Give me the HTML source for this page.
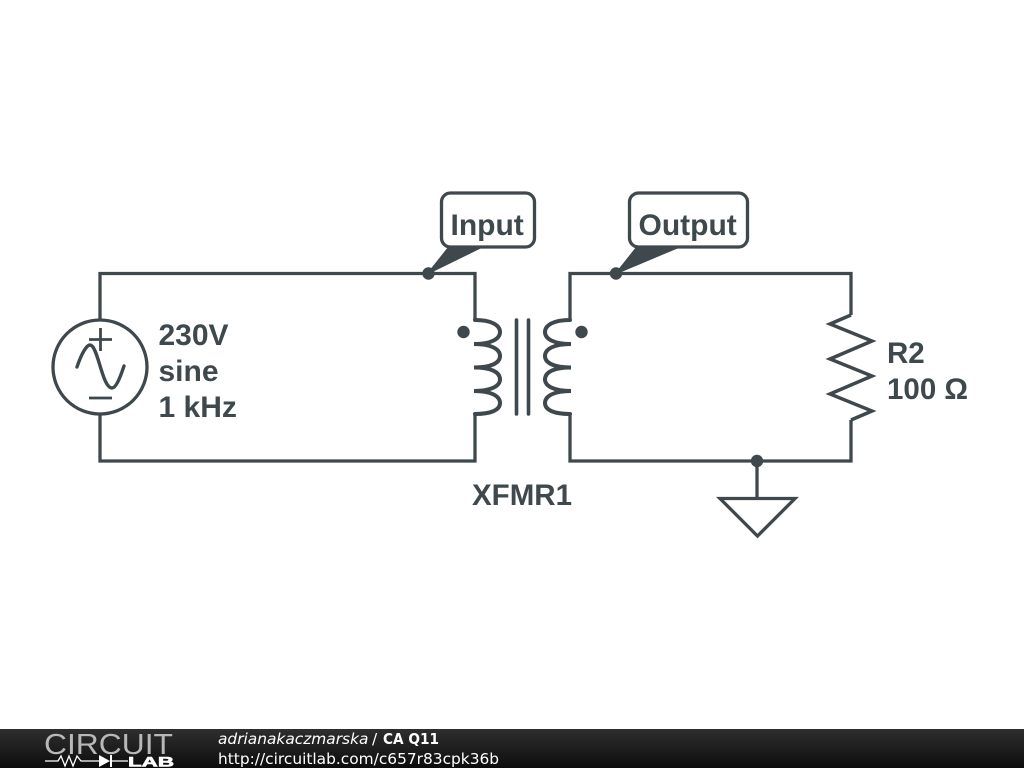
<!DOCTYPE html>
<html><head><meta charset="utf-8">
<style>
html,body{margin:0;padding:0;background:#fff;width:1024px;height:768px;overflow:hidden}
svg{display:block}
.t{font-family:"Liberation Sans",sans-serif;font-weight:bold;font-size:29.500px;fill:#3f484d}
.u{font-size:30px}
.f{font-family:"DejaVu Sans",sans-serif;font-size:15.400px;fill:#fff}
</style></head><body>
<svg width="1024" height="768" viewBox="0 0 1024 768" xmlns="http://www.w3.org/2000/svg">
<defs><linearGradient id="g" x1="0" y1="0" x2="0" y2="1"><stop offset="0" stop-color="#2e2e2e"/><stop offset="0.5" stop-color="#1e1e1e"/><stop offset="1" stop-color="#0c0c0c"/></linearGradient></defs>
<g fill="none" stroke="#3f484d" stroke-width="3.300" stroke-linejoin="miter">
<path d="M100 320V273.500H475V320"/>
<path d="M100 414V461H475V414"/>
<path d="M570 320V273.500H851V315"/>
<path d="M570 414V461H851V420"/>
<circle cx="100" cy="367" r="47"/>
<path d="M89 339.500H112M100.500 328V351M89 398H112" stroke-width="2.800"/>
<path d="M77 367C82 352 87 345 90 345C98 345 102 388 112 388C116 388 120 378 124 366" stroke-width="3.400" stroke-linecap="round"/>
<path d="M475 320C491 320 500 325 500 332C500 339 491 344 474 344C491 344 500 349 500 356C500 363 491 367.500 474 367.500C491 367.500 500 372 500 379.500C500 386 491 391 474 391C491 391 500 396 500 403C500 410 491 414 475 414" stroke-width="4" stroke-linecap="round"/>
<path d="M570 320C554 320 545 325 545 332C545 339 554 344 571 344C554 344 545 349 545 356C545 363 554 367.500 571 367.500C554 367.500 545 372 545 379.500C545 386 554 391 571 391C554 391 545 396 545 403C545 410 554 414 570 414" stroke-width="4" stroke-linecap="round"/>
<path d="M516.500 320V414M528.500 320V414" stroke-width="3.600" stroke-linecap="round"/>
<path d="M851 315L830 324L872 341L830 359L872 376L830 394L872 411L851 420" stroke-width="3.500"/>
<path d="M757 461V498"/>
<path d="M720 498.500H795L757.500 536Z"/>
<rect x="441.500" y="193" width="93" height="54" rx="9" fill="#fff"/>
<rect x="629.500" y="193" width="118" height="54" rx="9" fill="#fff"/>
</g>
<g fill="#3f484d" stroke="#3f484d" stroke-width="1.500">
<path d="M428 273.500L449 247H482Z"/>
<path d="M616 273.500L637 247H679Z"/>
</g>
<g fill="#3f484d">
<circle cx="428.500" cy="273.500" r="6.200"/>
<circle cx="616" cy="273.500" r="6.200"/>
<circle cx="757" cy="461" r="6.200"/>
<circle cx="463.500" cy="332" r="6.200"/>
<circle cx="581.500" cy="332" r="6.200"/>
</g>
<text class="t u" x="450.500" y="235">Input</text>
<text class="t u" x="638.500" y="235">Output</text>
<text class="t u" x="158.500" y="345">230V</text>
<text class="t u" x="158.500" y="381">sine</text>
<text class="t u" x="158.500" y="417">1 kHz</text>
<text class="t" x="887" y="363">R2</text>
<text class="t" x="887" y="399">100 Ω</text>
<text class="t" x="472" y="505">XFMR1</text>
<rect x="0" y="729" width="1024" height="39" fill="url(#g)"/>
<text x="44" y="754" font-family="'Liberation Sans',sans-serif" font-size="29" fill="#b8b8b8" textLength="129" lengthAdjust="spacingAndGlyphs">CIRCUIT</text>
<path d="M45 761H58L61 756L65 766L69 756L73 766L77 756L81 761H99M112 761H128" fill="none" stroke="#fff" stroke-width="1.300"/>
<path d="M99 755V767L110 761ZM110 755H112V767H110Z" fill="#fff"/>
<text x="128" y="766.500" font-family="'Liberation Sans',sans-serif" font-weight="bold" font-size="13.500" fill="#fff" stroke="#fff" stroke-width="0.600" textLength="46" lengthAdjust="spacingAndGlyphs">LAB</text>
<text class="f" x="218" y="744" font-style="italic">adrianakaczmarska</text>
<text class="f" x="372" y="744">/</text>
<text class="f" x="383" y="744" font-weight="bold" textLength="56" lengthAdjust="spacingAndGlyphs">CA Q11</text>
<text class="f" x="218" y="764">http://circuitlab.com/c657r83cpk36b</text>
</svg>
</body></html>
